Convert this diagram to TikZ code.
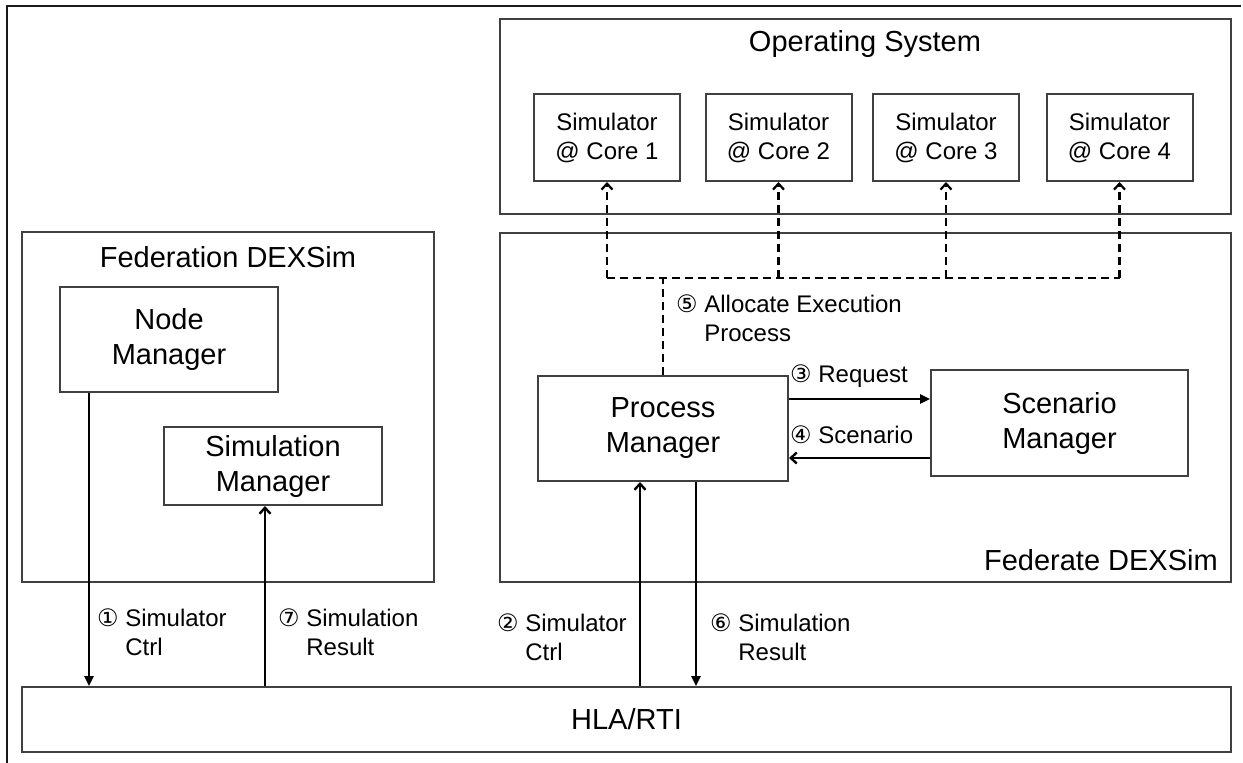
\documentclass[tikz,border=0pt]{standalone}
\usepackage{fontspec}
\setmainfont{Liberation Sans}
\newfontfamily\circfont[Scale=1.0]{DejaVu Sans}
\usepackage{tikz}
\usetikzlibrary{arrows.meta,positioning}

\newcommand{\cnum}[1]{{\circfont #1}}
\newcommand{\twoline}[2]{\begin{tabular}[t]{@{}l@{}}#1\\#2\end{tabular}}

\tikzset{
	box/.style={draw=black!75, line width=2pt, inner sep=0pt, align=center},
	bigtext/.style={font=\fontsize{29}{35}\selectfont},
	smalltext/.style={font=\fontsize{24}{29}\selectfont},
	lbl/.style={smalltext, inner sep=0pt, anchor=base west},
	fullarrow/.style={line width=2.4pt, -{Triangle[length=10pt,width=9pt]}},
	openarrow/.style={line width=2.4pt, -{Straight Barb[length=6pt,width=11pt]}},
	alloc/.style={line width=2.2pt, dash pattern=on 8pt off 5pt},
	allocarrow/.style={alloc, -{Straight Barb[length=6pt,width=11pt]}},
	frame/.style={line width=2.8pt, black!90},
}

\begin{document}
\begin{tikzpicture}[x=1pt,y=-1pt]
		\useasboundingbox (0,0) rectangle (1243,763);
		\draw[frame] (7,763) -- (7,6) -- (1241,6);

		% containers
		\node[box, minimum width=731, minimum height=195] (os) at (865.5,116.5) {};
		\node[box, minimum width=731, minimum height=349] (fede) at (865.5,407.5) {};
		\node[box, minimum width=412, minimum height=350] (fedn) at (228,407) {};
		\node[box, bigtext, minimum width=1209, minimum height=65] (hla) at (626.5,719.5) {HLA/RTI};

		\node[bigtext] (ostitle) at (865,44) {Operating System};
		\node[bigtext] (fedntitle) at (228,257) {Federation DEXSim};
		\node[bigtext, anchor=east, inner sep=0pt] (fedetitle) at (1218,560) {Federate DEXSim};

		\foreach \i/\cx in {1/607,2/778.5,3/946,4/1119.5}
			\node[box, smalltext, minimum width=146, minimum height=87] (core\i) at (\cx,137.5) {Simulator\\@ Core \i};

		\node[box, bigtext, minimum width=218, minimum height=105] (nodemgr) at (169,339.5) {Node\\Manager};
		\node[box, bigtext, minimum width=218, minimum height=78] (simmgr) at (273,466) {Simulation\\Manager};
		\node[box, bigtext, minimum width=250, minimum height=105] (procmgr) at (663,428.5) {Process\\Manager};
		\node[box, bigtext, minimum width=257, minimum height=106] (scenmgr) at (1059.5,423) {Scenario\\Manager};

		% allocation bus
		\coordinate (bus) at (0,278);
		\draw[alloc] (procmgr.north) -- (procmgr.north |- bus);
		\draw[alloc] (core1.south |- bus) -- (core4.south |- bus);
		\foreach \i in {1,...,4}
			\draw[allocarrow] (core\i.south |- bus) -- (core\i.south);

		\path ([yshift=29.5pt]procmgr.east) coordinate (req) ([yshift=-29.5pt]procmgr.east) coordinate (scn);
		\draw[fullarrow] (req) -- (req -| scenmgr.west);
		\draw[openarrow] (scn -| scenmgr.west) -- (scn);

		\path ([xshift=-80pt]nodemgr.south) coordinate (a1)
			([xshift=-8pt]simmgr.south) coordinate (a7)
			([xshift=-23pt]procmgr.south) coordinate (a2)
			([xshift=33pt]procmgr.south) coordinate (a6);
		\draw[fullarrow] (a1) -- (a1 |- hla.north);
		\draw[openarrow] (a7 |- hla.north) -- (a7);
		\draw[openarrow] (a2 |- hla.north) -- (a2);
		\draw[fullarrow] (a6) -- (a6 |- hla.north);

		\node[lbl] (lab1) at (97,626) {\cnum{①} \twoline{Simulator}{Ctrl}};
		\node[lbl] (lab7) at (278,626) {\cnum{⑦} \twoline{Simulation}{Result}};
		\node[lbl] (lab2) at (497,631) {\cnum{②} \twoline{Simulator}{Ctrl}};
		\node[lbl] (lab6) at (710,631) {\cnum{⑥} \twoline{Simulation}{Result}};
		\node[lbl] (lab5) at (676,312) {\cnum{⑤} \twoline{Allocate Execution}{Process}};
		\node[lbl] (lab3) at (790,382) {\cnum{③} Request};
		\node[lbl] (lab4) at (790,443) {\cnum{④} Scenario};
	\end{tikzpicture}
\end{document}
